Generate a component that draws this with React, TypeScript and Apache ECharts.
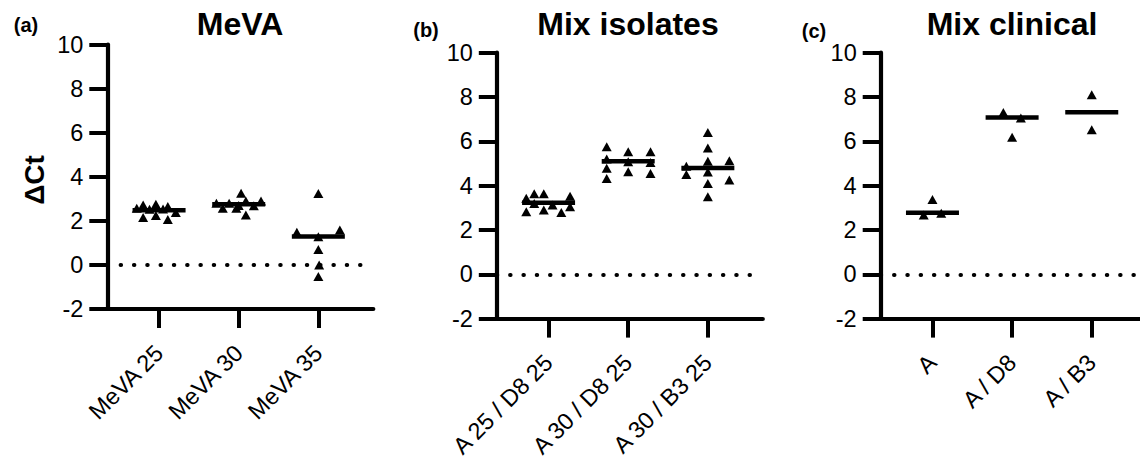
import React, { useEffect, useRef } from "react";
import * as echarts from "echarts";

// ---------- data ----------
const CAT_A = ["MeVA 25", "MeVA 30", "MeVA 35"];
const CAT_B = ["A 25 / D8 25", "A 30 / D8 25", "A 30 / B3 25"];
const CAT_C = ["A", "A / D8", "A / B3"];

const Y_MIN = -2;
const Y_MAX = 10;
const Y_STEP = 2;

// panel (a) MeVA
const meva25 = [2.57, 2.72, 2.15, 2.53, 2.75, 2.24, 2.54, 2.65, 2.06, 2.38];
const meva25Jitter = [-0.28, -0.2, -0.2, -0.12, -0.04, -0.04, 0.05, 0.11, 0.11, 0.21];
const meva30 = [2.8, 2.57, 2.8, 2.57, 2.7, 3.25, 2.9, 2.27, 2.68, 2.9];
const meva30Jitter = [-0.28, -0.2, -0.12, -0.03, 0.0, 0.03, 0.09, 0.09, 0.19, 0.28];
const meva35 = [3.24, 1.48, 1.58, 1.28, 0.7, 0.0, -0.53];
const meva35Jitter = [0, -0.27, 0.27, 0, 0, 0.01, 0];
const medianA = [2.48, 2.75, 1.29];

// panel (b) Mix isolates
const a25d8 = [3.43, 2.82, 3.63, 3.2, 3.63, 2.9, 3.13, 2.79, 3.52, 3.05];
const a25d8Jitter = [-0.28, -0.28, -0.18, -0.18, -0.06, -0.06, 0.05, 0.16, 0.27, 0.27];
const a30d8 = [5.75, 5.2, 4.78, 4.32, 5.53, 5.08, 4.63, 5.53, 5.05, 4.55];
const a30d8Jitter = [-0.27, -0.27, -0.27, -0.27, 0, 0, 0, 0.28, 0.28, 0.28];
const a30b3 = [4.88, 4.5, 6.4, 5.7, 5.1, 4.62, 4.1, 3.5, 5.12, 4.25];
const a30b3Jitter = [-0.27, -0.27, 0, 0, 0, 0, 0, 0, 0.27, 0.27];
const medianB = [3.23, 5.1, 4.8];

// panel (c) Mix clinical
const clinA = [2.68, 3.38, 2.75];
const clinAJitter = [-0.11, 0, 0.11];
const clinAD8 = [7.3, 7.05, 6.18];
const clinAD8Jitter = [-0.11, 0.11, 0];
const clinAB3 = [8.1, 6.52];
const clinAB3Jitter = [0, 0];
const medianC = [2.78, 7.08, 7.31];

const TITLES = ["MeVA", "Mix isolates", "Mix clinical"];
const LETTERS = ["(a)", "(b)", "(c)"];
const Y_NAME = "ΔCt";

// ---------- layout ----------
const FONT = "Liberation Sans, Arial, Helvetica, sans-serif";
const X_MIN = 0.35;
const X_MAX = 3.69;
const ZERO_END = 3.56;

const panels = [
  {
    cats: CAT_A,
    groups: [meva25, meva30, meva35],
    jitter: [meva25Jitter, meva30Jitter, meva35Jitter],
    medians: medianA,
    left: 107.3, top: 44.5, width: 266, height: 264.5,
    titleX: 240, titleY: 24, letterX: 26, letterY: 25,
  },
  {
    cats: CAT_B,
    groups: [a25d8, a30d8, a30b3],
    jitter: [a25d8Jitter, a30d8Jitter, a30b3Jitter],
    medians: medianB,
    left: 496.8, top: 52.7, width: 266, height: 265.9,
    titleX: 628, titleY: 24, letterX: 426, letterY: 30,
  },
  {
    cats: CAT_C,
    groups: [clinA, clinAD8, clinAB3],
    jitter: [clinAJitter, clinAD8Jitter, clinAB3Jitter],
    medians: medianC,
    left: 880.7, top: 52.7, width: 266, height: 265.9,
    titleX: 1012, titleY: 24, letterX: 814, letterY: 30.5,
  },
];

export default function App() {
  const ref = useRef<HTMLDivElement>(null);

  useEffect(() => {
    if (!ref.current) return;
    const chart = echarts.init(ref.current, undefined, { renderer: "svg" });

    const grid = panels.map((p) => ({
      left: p.left,
      top: p.top,
      width: p.width,
      height: p.height,
      containLabel: false,
      outerBoundsMode: "none",
    }));

    const xAxis = panels.map((p, i) => ({
      gridIndex: i,
      type: "value",
      min: X_MIN,
      max: X_MAX,
      axisLine: { show: true, onZero: false, lineStyle: { color: "#000000", width: 4.2, opacity: 1 } },
      axisTick: {
        show: true,
        customValues: [1, 2, 3],
        length: 19,
        lineStyle: { color: "#000000", width: 4, opacity: 1 },
      },
      axisLabel: {
        show: true,
        customValues: [1, 2, 3],
        formatter: (v: number) => p.cats[Math.round(v) - 1] ?? "",
        rotate: 45,
        margin: 40,
        fontSize: 23.5,
        color: "#000",
        fontFamily: FONT,
      },
      splitLine: { show: false },
    }));

    const yAxis = panels.map((p, i) => ({
      gridIndex: i,
      type: "value",
      min: Y_MIN,
      max: Y_MAX,
      interval: Y_STEP,
      axisLine: { show: true, onZero: false, lineStyle: { color: "#000000", width: 4.2, opacity: 1 } },
      axisTick: { show: true, length: 18, lineStyle: { color: "#000000", width: 4, opacity: 1 } },
      axisLabel: { margin: 24, fontSize: 23.5, color: "#000", fontFamily: FONT },
      splitLine: { show: false },
    }));

    const series: any[] = [];
    panels.forEach((p, i) => {
      const pts: number[][] = [];
      p.groups.forEach((vals, g) => {
        vals.forEach((v, k) => pts.push([g + 1 + p.jitter[g][k], v]));
      });
      series.push({
        type: "scatter",
        xAxisIndex: i,
        yAxisIndex: i,
        symbol: "triangle",
        symbolSize: [10, 9],
        itemStyle: { color: "#000", opacity: 1 },
        data: pts,
        silent: true,
        z: 3,
        markLine: {
          silent: true,
          symbol: ["none", "none"],
          label: { show: false },
          lineStyle: { type: [0.5, 12.8], width: 4, color: "#000", cap: "round", opacity: 1 },
          data: [[{ coord: [X_MIN, 0] }, { coord: [ZERO_END, 0] }]],
        },
      });
      series.push({
        type: "scatter",
        xAxisIndex: i,
        yAxisIndex: i,
        symbol: "rect",
        symbolSize: [53, 4.5],
        itemStyle: { color: "#000", opacity: 1 },
        data: p.medians.map((m, g) => [g + 1, m]),
        silent: true,
        z: 4,
      });
    });

    const txt = (x: number, y: number, text: string, font: string, extra: any = {}) => ({
      type: "text",
      x,
      y,
      ...extra,
      style: {
        text,
        font,
        fill: "#000",
        align: "center",
        verticalAlign: "middle",
        textAlign: "center",
        textVerticalAlign: "middle",
      },
    });

    const graphic: any[] = [];
    panels.forEach((p, i) => {
      graphic.push(txt(p.titleX, p.titleY, TITLES[i], `bold 32px ${FONT}`));
      graphic.push(txt(p.letterX, p.letterY, LETTERS[i], `bold 20px ${FONT}`));
    });
    graphic.push(txt(34, 180, Y_NAME, `bold 28px ${FONT}`, { rotation: Math.PI / 2 }));

    chart.setOption({
      animation: false,
      grid,
      xAxis,
      yAxis,
      series,
      graphic,
    });

    return () => chart.dispose();
  }, []);

  return (
    <div
      ref={ref}
      style={{ position: "fixed", left: 0, top: 0, width: 1140, height: 463, background: "#fff" }}
    />
  );
}
